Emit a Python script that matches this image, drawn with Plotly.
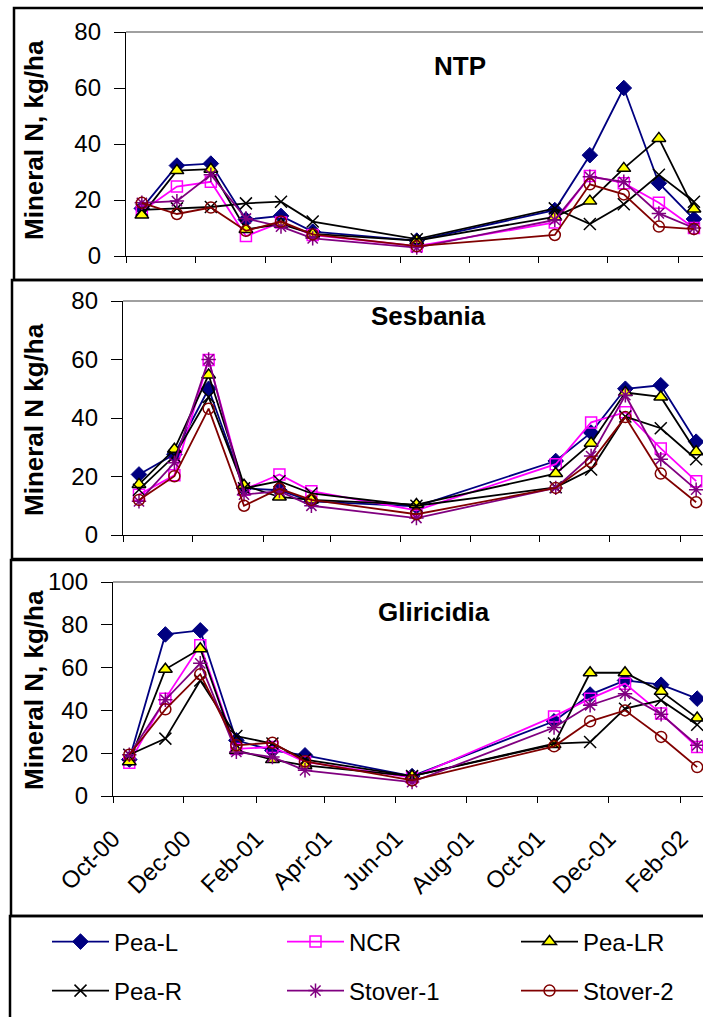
import plotly.graph_objects as go

W, H = 703, 1017

dates = ["2000-10-15", "2000-11-15", "2000-12-15", "2001-01-15", "2001-02-15", "2001-03-15",
         "2001-06-15", "2001-10-15", "2001-11-15", "2001-12-15", "2002-01-15", "2002-02-15"]

tick_dates = ["2000-10-01", "2000-12-01", "2001-02-01", "2001-04-01", "2001-06-01",
              "2001-08-01", "2001-10-01", "2001-12-01", "2002-02-01"]
tick_labels = ["Oct-00", "Dec-00", "Feb-01", "Apr-01", "Jun-01", "Aug-01", "Oct-01", "Dec-01", "Feb-02"]

series_names = ["Pea-L", "NCR", "Pea-LR", "Pea-R", "Stover-1", "Stover-2"]

# NTP panel
ntp_pea_l = [17, 32.3, 33, 13, 14.3, 8.7, 5.5, 16.4, 36, 60, 26, 13.2]
ntp_ncr = [16, 24.8, 26.5, 7.1, 12, 7.5, 3.5, 12, 28.6, 26, 19, 10]
ntp_pea_lr = [14.6, 30.5, 31, 9.5, 11.4, 7.9, 5.5, 14, 19.6, 31.3, 42, 16.8]
ntp_pea_r = [16.5, 17, 17.5, 18.8, 19.4, 12.3, 6, 17, 11.4, 18.5, 29, 19.4]
ntp_stover1 = [19, 19.6, 29, 13.4, 10.5, 6.3, 3, 12.9, 28.3, 26.5, 15.2, 10]
ntp_stover2 = [19, 15, 17.3, 9, 12.3, 7.7, 3.5, 7.5, 25.6, 22, 10.5, 9.6]

# Sesbania panel
ses_pea_l = [20.7, 27.6, 50, 16, 15.3, 11.5, 9.8, 25.3, 35, 50, 51.2, 31.9]
ses_ncr = [13.8, 20.4, 59.8, 15.5, 20.7, 15, 8.4, 24.2, 38.5, 42, 29.6, 18.4]
ses_pea_lr = [17.3, 29.3, 54.7, 17, 13, 12, 10.4, 21, 31.4, 48.7, 47.2, 28.5]
ses_pea_r = [15.5, 27, 47.2, 16, 18.4, 14.2, 10, 16.3, 22.4, 40.5, 36.5, 25.9]
ses_stover1 = [11.5, 24.7, 60, 13.8, 15, 10, 5.8, 16.1, 27, 47.8, 25.9, 15.5]
ses_stover2 = [12, 20.1, 43.2, 10, 15.8, 12, 7.1, 16.1, 25, 40.3, 21, 11.2]

# Gliricidia panel
gli_pea_l = [17, 75.5, 77.4, 26, 21.3, 19, 9.3, 34.9, 47.4, 54, 52, 45.5]
gli_ncr = [15.5, 45.5, 70.4, 22, 22.9, 15.9, 8.6, 37.2, 45.5, 52.5, 38.5, 22.9]
gli_pea_lr = [16, 59.2, 68.8, 21.3, 17, 14.3, 9.3, 24.1, 57.6, 57.6, 48.9, 36.4]
gli_pea_r = [19.3, 26.8, 54, 28, 24.5, 17, 9.3, 24.5, 25.2, 40.8, 44.7, 33.3]
gli_stover1 = [19.3, 45, 62, 20.6, 18.2, 12, 6.5, 32, 42.4, 47.8, 38.2, 23.7]
gli_stover2 = [19.3, 40.5, 56.9, 23.7, 24.9, 16.2, 7.3, 23.2, 34.9, 40, 27.6, 13.5]

panels = [
    ("NTP", [ntp_pea_l, ntp_ncr, ntp_pea_lr, ntp_pea_r, ntp_stover1, ntp_stover2]),
    ("Sesbania", [ses_pea_l, ses_ncr, ses_pea_lr, ses_pea_r, ses_stover1, ses_stover2]),
    ("Gliricidia", [gli_pea_l, gli_ncr, gli_pea_lr, gli_pea_r, gli_stover1, gli_stover2]),
]

styles = [
    dict(line_color="#000080", marker=dict(symbol="diamond", size=12, color="#000080",
                                            line=dict(color="#000080", width=1))),
    dict(line_color="#FF00FF", marker=dict(symbol="square-open", size=11, color="#FF00FF",
                                            line=dict(color="#FF00FF", width=1.5))),
    dict(line_color="#000000", marker=dict(symbol="triangle-up", size=12, color="#FFFF00",
                                            line=dict(color="#000000", width=1.5))),
    dict(line_color="#000000", marker=dict(symbol="x-thin-open", size=12, color="#000000",
                                            line=dict(color="#000000", width=1.5))),
    dict(line_color="#800080", marker=dict(symbol="asterisk-open", size=12, color="#800080",
                                            line=dict(color="#800080", width=1.5))),
    dict(line_color="#800000", marker=dict(symbol="circle-open", size=11, color="#800000",
                                            line=dict(color="#800000", width=1.5))),
]

FONT = "Liberation Sans, Arial, sans-serif"
TICK_SIZE = 24

def px(x):
    return x / W

def py(y):
    return 1 - y / H

# plot-area geometry (pixels)
geo = [
    dict(left=126, top=32, bottom=256, xend="2002-02-23", ymax=80, title_xy=(460, 66), ytitle="Mineral N, kg/ha", ytc=140),
    dict(left=123, top=301, bottom=535, xend="2002-02-21", ymax=80, title_xy=(428, 316), ytitle="Mineral N kg/ha", ytc=420),
    dict(left=113, top=582, bottom=796, xend="2002-02-20", ymax=100, title_xy=(434, 612), ytitle="Mineral N, kg/ha", ytc=690),
]

# legend entry positions (pixels): left of legend box, vertical centre
legend_pos = [(47, 942), (282, 942), (516, 942), (47, 991), (282, 991), (516, 991)]

fig = go.Figure()

for pi, (pname, series) in enumerate(panels):
    sfx = "" if pi == 0 else str(pi + 1)
    for si, vals in enumerate(series):
        st = styles[si]
        show = pi == 2
        leg = "legend" if si == 0 else "legend%d" % (si + 1)
        fig.add_trace(go.Scatter(
            x=dates, y=vals, name=series_names[si], mode="lines+markers",
            line=dict(color=st["line_color"], width=1.8),
            marker=st["marker"],
            xaxis="x" + sfx, yaxis="y" + sfx,
            showlegend=show, legend=leg,
            cliponaxis=False,
        ))

layout = dict(
    width=W, height=H,
    margin=dict(l=0, r=0, t=0, b=0, autoexpand=False),
    paper_bgcolor="white", plot_bgcolor="white",
    font=dict(family=FONT, size=TICK_SIZE, color="black"),
    shapes=[], annotations=[],
)

for pi, g in enumerate(geo):
    sfx = "" if pi == 0 else str(pi + 1)
    xa = dict(
        domain=[px(g["left"]), 1.0],
        anchor="y" + sfx,
        type="date",
        range=["2000-10-01", g["xend"]],
        tickvals=tick_dates, ticktext=tick_labels,
        showticklabels=(pi == 2),
        tickangle=-45,
        ticks="outside", ticklen=6, tickwidth=1.3, tickcolor="black",
        showline=True, linecolor="black", linewidth=1.3,
        showgrid=False, zeroline=False,
        tickfont=dict(family=FONT, size=TICK_SIZE, color="black"),
        ticklabelstandoff=12,
        automargin=False,
    )
    ya = dict(
        domain=[py(g["bottom"]), py(g["top"])],
        anchor="x" + sfx,
        range=[0, g["ymax"]], dtick=20, tick0=0,
        ticks="outside", ticklen=11, tickwidth=1.3, tickcolor="black",
        showline=True, linecolor="black", linewidth=1.3,
        showgrid=False, zeroline=False,
        tickfont=dict(family=FONT, size=TICK_SIZE, color="black"),
        ticklabelstandoff=8,
        automargin=False,
    )
    layout["xaxis" + sfx] = xa
    layout["yaxis" + sfx] = ya
    layout["shapes"].append(dict(type="line", xref="paper", yref="paper",
                                 x0=px(g["left"]), x1=1.0, y0=py(g["top"]), y1=py(g["top"]),
                                 line=dict(color="#808080", width=1.5)))
    layout["annotations"].append(dict(
        text="<b>%s</b>" % panels[pi][0], xref="paper", yref="paper",
        x=px(g["title_xy"][0]), y=py(g["title_xy"][1]), xanchor="center", yanchor="middle",
        showarrow=False, font=dict(family=FONT, size=26, color="black")))
    layout["annotations"].append(dict(
        text="<b>%s</b>" % g["ytitle"], xref="paper", yref="paper",
        x=px(34), y=py(g["ytc"]), xanchor="center", yanchor="middle", textangle=-90,
        showarrow=False, font=dict(family=FONT, size=26, color="black")))

frames = [(14, 8, 280), (12, 280, 559), (11, 560, 916), (10, 916, 1030)]
for (xl, yt, yb) in frames:
    layout["shapes"].append(dict(type="rect", xref="paper", yref="paper",
                                 x0=px(xl), x1=1.02, y0=py(yb), y1=py(yt),
                                 line=dict(color="black", width=2.5), fillcolor="rgba(0,0,0,0)",
                                 layer="below"))

for i, (lx, ly) in enumerate(legend_pos):
    key = "legend" if i == 0 else "legend%d" % (i + 1)
    layout[key] = dict(x=px(lx), y=py(ly), xanchor="left", yanchor="middle",
                       orientation="v", font=dict(family=FONT, size=TICK_SIZE, color="black"),
                       bgcolor="rgba(0,0,0,0)", itemwidth=57)

fig.update_layout(**layout)
fig.write_html("out.html")
